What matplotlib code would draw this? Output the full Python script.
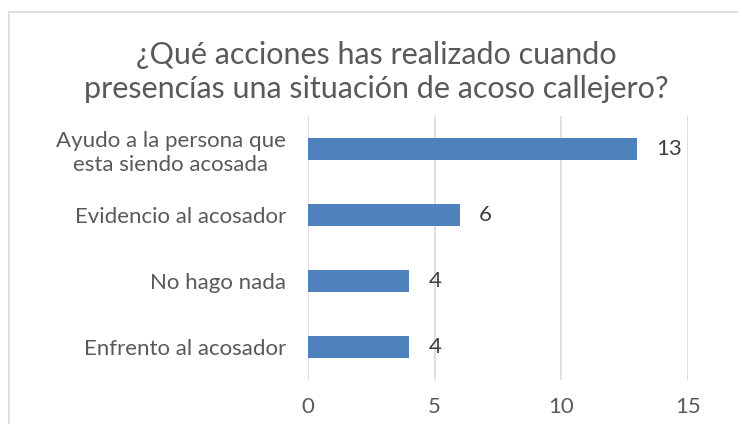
import matplotlib.pyplot as plt
from matplotlib.patches import Rectangle

# Data
categorias = ['Enfrento al acosador', 'No hago nada', 'Evidencio al acosador',
              'Ayudo a la persona que\nesta siendo acosada']
valores = [4, 4, 6, 13]
ticks_x = [0, 5, 10, 15]

plt.rcParams['font.family'] = ['Lato', 'DejaVu Sans']

fig = plt.figure(figsize=(7.38, 4.24), dpi=100)

# Chart border
fig.patches.append(Rectangle((9 / 738, -0.1), 1.2, 1 - 12 / 424 + 0.1,
                             transform=fig.transFigure, fill=False,
                             edgecolor='#d9d9d9', linewidth=1.2))

ax = fig.add_axes([308 / 738, 44 / 424, 380 / 738, 264 / 424])

pos = range(len(categorias))
ax.barh(pos, valores, height=0.333, color='#4f81bd', zorder=3)

for p, v in zip(pos, valores):
    ax.text(v + 0.75, p, str(v), va='center', ha='left', fontsize=16, color='#404040')

ax.set_xlim(0, 15)
ax.set_ylim(-0.5, len(categorias) - 0.5)
ax.set_xticks(ticks_x)
ax.set_yticks(list(pos))
ax.set_yticklabels(categorias, fontsize=16, color='#595959', multialignment='center',
                   linespacing=1.25)
ax.tick_params(axis='x', labelsize=16, labelcolor='#595959', length=0, pad=12)
ax.tick_params(axis='y', length=0, pad=16)
ax.grid(axis='x', color='#d9d9d9', linewidth=1.2, zorder=0)
for s in ax.spines.values():
    s.set_visible(False)

fig.text(0.510, 1 - 72 / 424, '¿Qué acciones has realizado cuando\npresencías una situación de acoso callejero?',
         ha='center', va='center', fontsize=22, color='#595959', linespacing=1.3)

plt.savefig('out.png', dpi=100)
